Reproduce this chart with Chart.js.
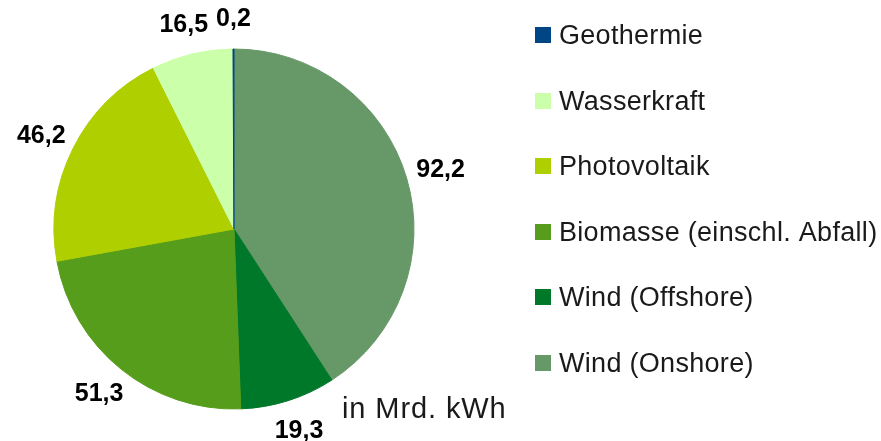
<!DOCTYPE html>
<html><head><meta charset="utf-8">
<script src="https://cdn.jsdelivr.net/npm/chart.js@4/dist/chart.umd.min.js"></script>
<style>html,body{margin:0;padding:0;background:#fff;overflow:hidden}#wrap{width:881px;height:441px;position:relative}</style>
</head><body><div id="wrap"><canvas id="c" width="881" height="441"></canvas></div>
<script>
// Data (clockwise from 12 o'clock)
const categories = ['Wind (Onshore)', 'Wind (Offshore)', 'Biomasse (einschl. Abfall)', 'Photovoltaik', 'Wasserkraft', 'Geothermie'];
const values = [92.2, 19.3, 51.3, 46.2, 16.5, 0.2];
const valueLabels = ['92,2', '19,3', '51,3', '46,2', '16,5', '0,2'];
const colors = ['#679867', '#00782a', '#579d1c', '#b0cf00', '#ccffaa', '#004586'];
const unitNote = 'in Mrd. kWh';

const FONT = '"Liberation Sans", Arial, sans-serif';

const overlay = {
  id: 'overlay',
  afterDraw(chart) {
    const ctx = chart.ctx;
    const meta = chart.getDatasetMeta(0);
    ctx.save();
    // value labels outside the slices
    ctx.font = 'bold 25px ' + FONT;
    ctx.fillStyle = '#000';
    ctx.textAlign = 'center';
    ctx.textBaseline = 'middle';
    meta.data.forEach((arc, i) => {
      const p = arc.getProps(['x', 'y', 'startAngle', 'endAngle', 'outerRadius'], true);
      const mid = (p.startAngle + p.endAngle) / 2;
      const c = Math.cos(mid), s = Math.sin(mid);
      const txt = valueLabels[i];
      const w = ctx.measureText(txt).width;
      const r = p.outerRadius + 16;
      const cx = p.x + r * c + (w / 2) * c * 0.8;
      const cy = p.y + r * s + 15 * s;
      ctx.fillText(txt, cx, cy + 1);
    });
    // legend (reverse order, as in reference)
    ctx.font = '27px ' + FONT;
    try { ctx.letterSpacing = '0.3px'; } catch (e) {}
    ctx.textAlign = 'left';
    ctx.textBaseline = 'alphabetic';
    const n = categories.length;
    for (let k = 0; k < n; k++) {
      const i = n - 1 - k;
      const yc = 35 + k * 65.6;
      ctx.fillStyle = colors[i];
      ctx.fillRect(535, Math.round(yc - 8), 16, 16);
      ctx.fillStyle = '#1a1a1a';
      ctx.fillText(categories[i], 559, yc + 9);
    }
    // unit note
    ctx.font = '29px ' + FONT;
    try { ctx.letterSpacing = '0.9px'; } catch (e) {}
    ctx.fillStyle = '#1a1a1a';
    ctx.fillText(unitNote, 342, 418);
    ctx.restore();
  }
};

new Chart(document.getElementById('c'), {
  type: 'pie',
  data: {
    labels: categories,
    datasets: [{
      data: values,
      backgroundColor: colors,
      borderColor: colors,
      borderWidth: 1,
      hoverOffset: 0
    }]
  },
  options: {
    responsive: false,
    devicePixelRatio: 1,
    animation: false,
    radius: 180,
    layout: { padding: { left: 0, right: 413, top: 17, bottom: 0 } },
    plugins: { legend: { display: false }, tooltip: { enabled: false } }
  },
  plugins: [overlay]
});
</script>
</body></html>
